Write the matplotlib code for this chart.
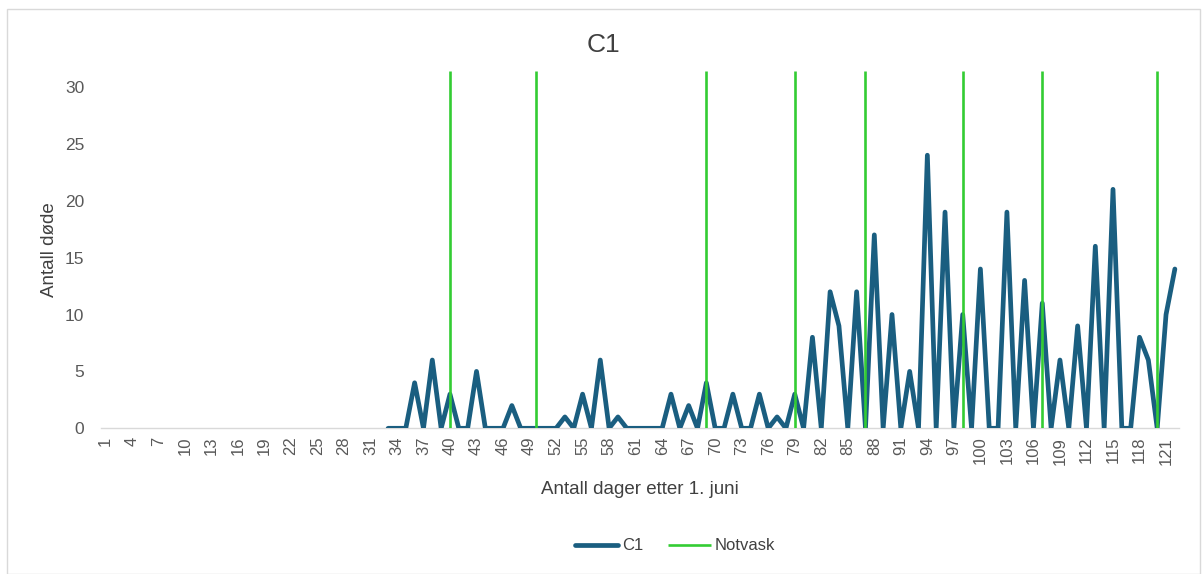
import matplotlib
matplotlib.use("Agg")
import matplotlib.pyplot as plt
from matplotlib.patches import Rectangle
import numpy as np

# Daily mortality for cage C1 (days after 1 June); recording starts on day 33
days = list(range(1, 123))
c1_start_day = 33
c1_values = [
    0, 0, 0, 4, 0, 6, 0, 3, 0, 0,        # 33-42
    5, 0, 0, 0, 2, 0, 0, 0, 0, 0,        # 43-52
    1, 0, 3, 0, 6, 0, 1, 0, 0, 0,        # 53-62
    0, 0, 3, 0, 2, 0, 4, 0, 0, 3,        # 63-72
    0, 0, 3, 0, 1, 0, 3, 0, 8, 0,        # 73-82
    12, 9, 0, 12, 0, 17, 0, 10, 0, 5,    # 83-92
    0, 24, 0, 19, 0, 10, 0, 14, 0, 0,    # 93-102
    19, 0, 13, 0, 11, 0, 6, 0, 9, 0,     # 103-112
    16, 0, 21, 0, 0, 8, 6, 0, 10, 14,    # 113-122
]
# Net washing events (day positions) and the height of their marker lines
notvask_days = [40, 49.7, 69, 79, 87, 98, 107, 120]
notvask_top = 31.4

x_tick_labels = [str(d) for d in days[::3]]
y_ticks = [0, 5, 10, 15, 20, 25, 30]

BLUE = "#1a5e80"
GREEN = "#33cc33"
TXT = "#595959"

plt.rcParams["font.family"] = ["Liberation Sans", "DejaVu Sans"]

fig = plt.figure(figsize=(12.02, 5.74), dpi=100)
W, H = 1202, 574

# light chart-area border
fig.patches.append(Rectangle((7 / W, 0), (W - 9) / W, (H - 9) / H,
                             transform=fig.transFigure, fill=False,
                             edgecolor="#d9d9d9", linewidth=1.0))

left, right = 100.8 / W, 1179.3 / W
bottom, top = (H - 428.3) / H, (H - 71) / H
ax = fig.add_axes([left, bottom, right - left, top - bottom])

c1_days = np.arange(c1_start_day, c1_start_day + len(c1_values))
ax.plot(c1_days, c1_values, color=BLUE, linewidth=3.4, label="C1",
        solid_joinstyle="round", solid_capstyle="round", zorder=3)
ax.vlines(notvask_days, 0, notvask_top, color=GREEN, linewidth=1.9,
          label="Notvask", zorder=4)

ax.set_xlim(days[0] - 0.5, days[-1] + 0.5)
ax.set_ylim(0, notvask_top)
ax.set_xticks(days[::3])
ax.set_xticklabels(x_tick_labels, rotation=90, fontsize=12, color=TXT)
ax.set_yticks(y_ticks)
ax.set_yticklabels([str(v) for v in y_ticks], fontsize=12.5, color=TXT)
ax.tick_params(axis="both", length=0)
ax.tick_params(axis="x", pad=6)
ax.tick_params(axis="y", pad=12)

for side in ("top", "right", "left"):
    ax.spines[side].set_visible(False)
ax.spines["bottom"].set_color("#d9d9d9")
ax.spines["bottom"].set_linewidth(1.0)
ax.spines["bottom"].set_zorder(1)

ax.set_ylabel("Antall døde", fontsize=13.5, color="#404040", labelpad=5)
ax.set_xlabel("Antall dager etter 1. juni", fontsize=13.5, color="#404040",
              labelpad=12)
fig.text(603 / W, 1 - 45 / H, "C1", fontsize=19, color="#404040",
         ha="center", va="center")

fig.legend(loc="center", bbox_to_anchor=(675 / W, 1 - 546 / H), ncol=2,
           frameon=False, fontsize=12, handlelength=2.6, columnspacing=1.5,
           handletextpad=0.2, labelcolor="#404040")

fig.savefig("out.png", dpi=100, facecolor="white")
